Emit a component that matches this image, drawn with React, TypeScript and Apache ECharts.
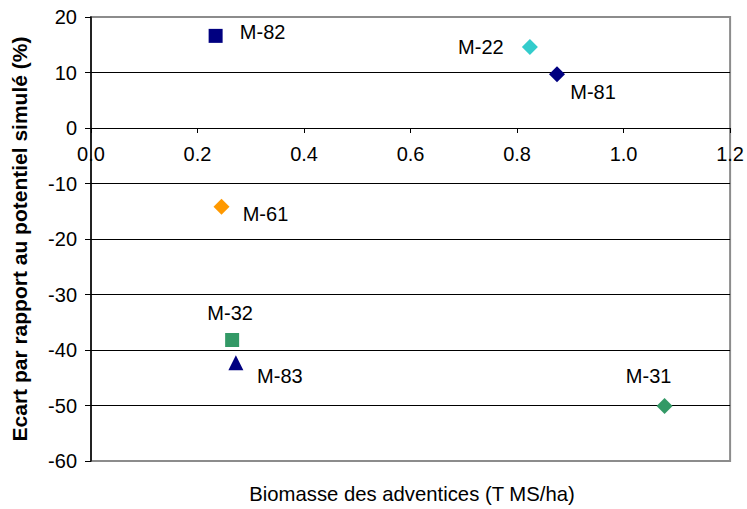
import React, { useEffect, useRef } from "react";
import * as echarts from "echarts";

// Parcelles (points) : biomasse des adventices vs écart au potentiel simulé
const plotNames = ["M-82", "M-22", "M-81", "M-61", "M-32", "M-83", "M-31"];
const biomasse = [0.234, 0.824, 0.875, 0.245, 0.265, 0.272, 1.077];
const ecart = [16.6, 14.6, 9.7, -14.2, -38.2, -42.3, -50.1];

const xTicksMin = 0;
const xTicksMax = 1.2;
const xTickStep = 0.2;
const yTicksMin = -60;
const yTicksMax = 20;
const yTickStep = 10;

const xTitle = "Biomasse des adventices (T MS/ha)";
const yTitle = "Ecart par rapport au potentiel simulé (%)";

// Marker look for each point
const markerStyle: Record<string, { symbol: string; color: string; size: number }> = {
  "M-82": { symbol: "rect", color: "#000080", size: 14 },
  "M-22": { symbol: "diamond", color: "#33CCCC", size: 16 },
  "M-81": { symbol: "diamond", color: "#000080", size: 16 },
  "M-61": { symbol: "diamond", color: "#FF9900", size: 16 },
  "M-32": { symbol: "rect", color: "#339966", size: 14 },
  "M-83": { symbol: "triangle", color: "#000080", size: 15 },
  "M-31": { symbol: "diamond", color: "#339966", size: 16 },
};

// Label placement relative to each marker centre
const labelOffset: Record<string, [number, number]> = {
  "M-82": [47, -4],
  "M-22": [-49, 0],
  "M-81": [36, 18],
  "M-61": [44, 7],
  "M-32": [-2, -27],
  "M-83": [44, 13],
  "M-31": [-16, -30],
};

const FONT = "Liberation Sans, Arial, sans-serif";

const GRID_TOP = 17;
const GRID_BOTTOM = 48;
const CHART_H = 509;

export default function App() {
  const ref = useRef<HTMLDivElement>(null);

  useEffect(() => {
    if (!ref.current) return;
    const chart = echarts.init(ref.current, undefined, { renderer: "svg" });

    // the horizontal axis sits on the y = 0 line
    const plotH = CHART_H - GRID_TOP - GRID_BOTTOM;
    const zeroFromBottom = (plotH * (0 - yTicksMin)) / (yTicksMax - yTicksMin);

    const series = plotNames.map((name, i) => {
      const m = markerStyle[name];
      return {
        name,
        type: "scatter",
        symbol: m.symbol,
        symbolSize: m.size,
        itemStyle: { color: m.color, opacity: 1 },
        data: [[biomasse[i], ecart[i]]],
        label: {
          show: true,
          formatter: name,
          position: "inside",
          offset: labelOffset[name],
          color: "#000",
          fontSize: 20,
          fontFamily: FONT,
        },
        emphasis: { disabled: true },
      };
    });

    chart.setOption({
      animation: false,
      backgroundColor: "#fff",
      grid: {
        left: 91,
        right: 14,
        top: GRID_TOP,
        bottom: GRID_BOTTOM,
        show: true,
        borderColor: "#8c8c8c",
        borderWidth: 2,
        backgroundColor: "transparent",
      },
      xAxis: {
        type: "value",
        min: xTicksMin,
        max: xTicksMax,
        interval: xTickStep,
        offset: -zeroFromBottom,
        axisLine: { show: true, onZero: false, lineStyle: { color: "#000", width: 1 } },
        axisTick: { show: true, length: 5, lineStyle: { color: "#000" } },
        axisLabel: {
          color: "#000",
          fontSize: 20,
          fontFamily: FONT,
          margin: 16,
          formatter: (v: number) => v.toFixed(1),
        },
        splitLine: { show: false },
      },
      yAxis: {
        type: "value",
        min: yTicksMin,
        max: yTicksMax,
        interval: yTickStep,
        name: yTitle,
        nameLocation: "middle",
        nameRotate: 90,
        nameGap: 61,
        nameTextStyle: {
          color: "#000",
          fontSize: 21,
          fontWeight: "bold",
          fontFamily: FONT,
        },
        axisLine: { show: true, onZero: false, lineStyle: { color: "#000", width: 1.5 } },
        axisTick: { show: true, length: 6, lineStyle: { color: "#000" } },
        axisLabel: {
          color: "#000",
          fontSize: 20,
          fontFamily: FONT,
          margin: 14,
        },
        splitLine: {
          show: true,
          showMinLine: false,
          showMaxLine: false,
          lineStyle: { color: "#000", width: 1 },
        },
      },
      graphic: [
        {
          type: "text",
          x: 412,
          y: 494,
          style: {
            text: xTitle,
            fill: "#000",
            fontSize: 20.3,
            fontFamily: FONT,
            align: "center",
            verticalAlign: "middle",
          },
        },
      ],
      series,
    });

    return () => chart.dispose();
  }, []);

  return (
    <div
      ref={ref}
      style={{ position: "fixed", left: 0, top: 0, width: 747, height: 509 }}
    />
  );
}
